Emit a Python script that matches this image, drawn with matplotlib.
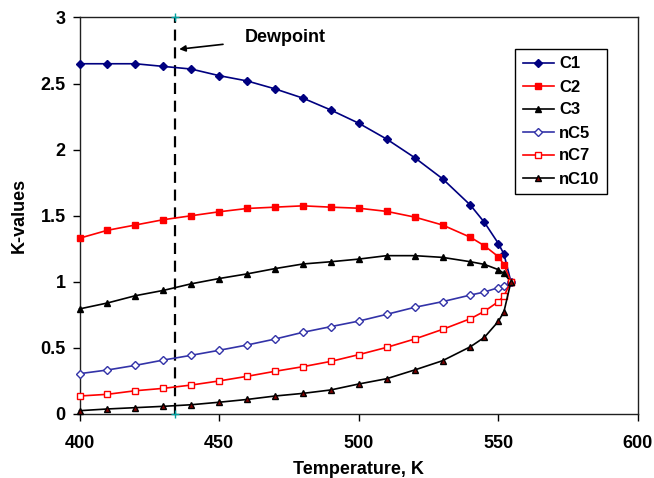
"""
K-values vs temperature for a gas-condensate mixture, with the dewpoint marked.
"""

import matplotlib

matplotlib.use("Agg")
import matplotlib.pyplot as plt


# -----------------------------
# 1. Chart data
# -----------------------------

TEMPERATURE = [400, 410, 420, 430, 440, 450, 460, 470, 480, 490, 500,
               510, 520, 530, 540, 545, 550, 552, 554.5]

K_C1 = [2.65, 2.65, 2.65, 2.63, 2.61, 2.56, 2.52, 2.46, 2.39, 2.30, 2.20,
        2.08, 1.94, 1.78, 1.58, 1.45, 1.29, 1.21, 1.0]
K_C2 = [1.33, 1.39, 1.43, 1.47, 1.50, 1.53, 1.555, 1.565, 1.575, 1.565, 1.557,
        1.533, 1.49, 1.43, 1.337, 1.273, 1.19, 1.13, 1.0]
K_C3 = [0.795, 0.84, 0.895, 0.935, 0.985, 1.025, 1.06, 1.10, 1.135, 1.152, 1.172,
        1.198, 1.198, 1.185, 1.152, 1.132, 1.092, 1.064, 1.0]
K_NC5 = [0.305, 0.333, 0.368, 0.408, 0.444, 0.482, 0.522, 0.567, 0.618, 0.661, 0.703,
         0.754, 0.807, 0.85, 0.90, 0.923, 0.956, 0.966, 1.0]
K_NC7 = [0.136, 0.149, 0.176, 0.194, 0.219, 0.25, 0.285, 0.323, 0.358, 0.398, 0.449,
         0.504, 0.567, 0.64, 0.721, 0.777, 0.85, 0.893, 1.0]
K_NC10 = [0.025, 0.038, 0.048, 0.058, 0.07, 0.089, 0.11, 0.136, 0.156, 0.182, 0.227,
          0.267, 0.333, 0.403, 0.509, 0.58, 0.701, 0.774, 1.0]

DEWPOINT_T = 434.2
X_TICKS = [400, 450, 500, 550, 600]
Y_TICKS = [0, 0.5, 1, 1.5, 2, 2.5, 3]
Y_TICK_LABELS = ["0", "0.5", "1", "1.5", "2", "2.5", "3"]

NAVY = "#000080"
RED = "#FF0000"
BLACK = "#000000"
SLATE = "#3333A8"
MAROON = "#800000"
TEAL = "#00A0A0"

FONT = "Liberation Sans"
FONT_SIZE = 13
LEGEND_SIZE = 12


# -----------------------------
# 2. Plot
# -----------------------------

def plot_series(ax):
    """Draw the six component curves in Excel-like styling."""
    styles = [
        ("C1", K_C1, NAVY, "D", 4.0, NAVY, NAVY),
        ("C2", K_C2, RED, "s", 4.0, RED, RED),
        ("C3", K_C3, BLACK, "^", 5.0, BLACK, BLACK),
        ("nC5", K_NC5, SLATE, "D", 4.0, "white", SLATE),
        ("nC7", K_NC7, RED, "s", 4.0, "white", RED),
        ("nC10", K_NC10, BLACK, "^", 5.0, MAROON, BLACK),
    ]
    for label, values, color, marker, size, face, edge in styles:
        ax.plot(
            TEMPERATURE,
            values,
            color=color,
            linewidth=1.2,
            marker=marker,
            markersize=size,
            markerfacecolor=face,
            markeredgecolor=edge,
            markeredgewidth=1.0,
            label=label,
            clip_on=False,
            zorder=3,
        )


def main():
    fig = plt.figure(figsize=(6.54, 4.78), dpi=100)
    ax = fig.add_axes([0.1216, 0.1339, 0.8539, 0.8295])

    plot_series(ax)

    # Dewpoint line with the small cyan end markers.
    ax.plot([DEWPOINT_T, DEWPOINT_T], [0, 3], color=BLACK, linewidth=1.6,
            linestyle=(0, (5, 3)), zorder=2)
    ax.plot([DEWPOINT_T, DEWPOINT_T], [0, 3], linestyle="none", marker="+",
            markersize=6, color=TEAL, markeredgewidth=1.0, clip_on=False, zorder=4)

    ax.annotate(
        "Dewpoint",
        xy=(435.7, 2.76),
        xytext=(459.3, 2.85),
        textcoords="data",
        ha="left",
        va="center",
        fontsize=FONT_SIZE,
        fontweight="bold",
        family=FONT,
        arrowprops={"arrowstyle": "-|>", "color": BLACK, "lw": 1.2,
                    "shrinkA": 14, "shrinkB": 0, "mutation_scale": 9},
    )

    ax.set_xlim(400, 600)
    ax.set_ylim(0, 3)
    ax.set_xticks(X_TICKS)
    ax.set_yticks(Y_TICKS)
    ax.set_yticklabels(Y_TICK_LABELS)
    ax.tick_params(direction="out", length=5, width=1.0, labelsize=FONT_SIZE)
    ax.tick_params(axis="x", pad=10)
    ax.tick_params(axis="y", pad=5)
    for label in ax.get_xticklabels() + ax.get_yticklabels():
        label.set_fontweight("bold")
        label.set_family(FONT)

    for spine in ax.spines.values():
        spine.set_linewidth(1.0)
        spine.set_color("#202020")

    ax.set_xlabel("Temperature, K", fontsize=FONT_SIZE, fontweight="bold", family=FONT)
    ax.set_ylabel("K-values", fontsize=FONT_SIZE, fontweight="bold", family=FONT)
    # The reference crops this label at the bottom edge; keep it just inside.
    ax.xaxis.set_label_coords(0.5, -0.118)
    ax.yaxis.set_label_coords(-0.092, 0.5)

    legend = ax.legend(
        loc="upper left",
        bbox_to_anchor=(515 / 654, 1 - 49 / 478),
        bbox_transform=fig.transFigure,
        borderaxespad=0,
        frameon=True,
        fancybox=False,
        edgecolor=BLACK,
        framealpha=1.0,
        handlelength=1.9,
        handletextpad=0.3,
        labelspacing=0.48,
        borderpad=0.45,
        prop={"family": FONT, "weight": "bold", "size": LEGEND_SIZE},
    )
    legend.get_frame().set_linewidth(1.0)

    fig.savefig("out.png", dpi=100)
    plt.close(fig)


if __name__ == "__main__":
    main()
